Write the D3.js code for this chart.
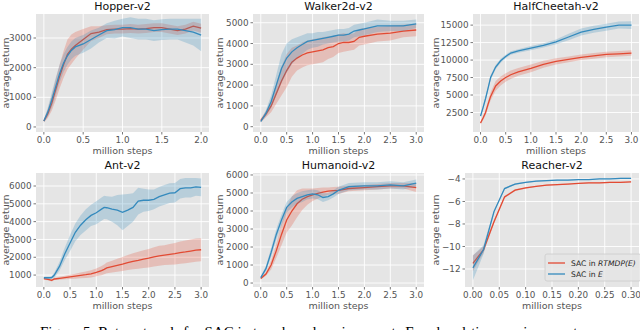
<!DOCTYPE html>
<html>
<head>
<meta charset="utf-8">
<script src="https://cdn.jsdelivr.net/npm/d3@7"></script>
<style>
body { margin: 0; background: #fff; }
svg { display: block; font-family: "DejaVu Sans", sans-serif; }
</style>
</head>
<body>
<div id="chart"></div>
<script>

// ---- data (mean and half-width of the shaded band) ----
var hopperSteps = [0, 0.05, 0.1, 0.15, 0.2, 0.25, 0.3, 0.35, 0.4, 0.5, 0.6, 0.7, 0.8, 0.9, 1.0, 1.1, 1.2, 1.3, 1.4, 1.5, 1.6, 1.7, 1.8, 1.9, 2.0];
var hopperRtmdp = [200, 450, 800, 1250, 1700, 2100, 2450, 2620, 2750, 2950, 3150, 3200, 3280, 3300, 3300, 3320, 3300, 3320, 3350, 3350, 3300, 3250, 3300, 3400, 3330];
var hopperRtmdpSpread = [50, 150, 250, 350, 400, 450, 500, 500, 450, 350, 250, 200, 150, 150, 150, 150, 150, 150, 150, 150, 150, 150, 150, 150, 150];
var hopperSac = [200, 500, 900, 1350, 1800, 2150, 2400, 2580, 2700, 2800, 2950, 3100, 3250, 3280, 3350, 3350, 3300, 3300, 3250, 3280, 3300, 3300, 3250, 3200, 3100];
var hopperSacSpread = [50, 150, 250, 300, 300, 300, 300, 300, 300, 300, 300, 250, 250, 300, 300, 350, 350, 350, 350, 350, 350, 350, 400, 450, 550];

var walkerSteps = [0, 0.1, 0.2, 0.3, 0.4, 0.5, 0.6, 0.7, 0.8, 0.9, 1.0, 1.1, 1.2, 1.3, 1.4, 1.5, 1.6, 1.7, 1.8, 1.9, 2.0, 2.25, 2.5, 2.75, 3.0];
var walkerRtmdp = [300, 600, 1000, 1600, 2200, 2700, 3100, 3300, 3450, 3550, 3600, 3650, 3700, 3800, 3850, 4000, 4050, 4050, 4100, 4300, 4350, 4450, 4500, 4600, 4650];
var walkerRtmdpSpread = [100, 150, 300, 500, 700, 800, 700, 600, 600, 600, 600, 600, 600, 550, 500, 450, 450, 400, 400, 400, 400, 350, 350, 300, 300];
var walkerSac = [250, 650, 1200, 2000, 2800, 3300, 3600, 3800, 3950, 4100, 4150, 4200, 4250, 4300, 4350, 4400, 4400, 4450, 4600, 4650, 4700, 4850, 4850, 4850, 4950];
var walkerSacSpread = [50, 150, 300, 500, 700, 700, 600, 500, 450, 400, 350, 350, 300, 300, 300, 300, 300, 300, 300, 300, 300, 300, 250, 250, 200];

var cheetahSteps = [0, 0.05, 0.1, 0.15, 0.2, 0.3, 0.4, 0.5, 0.6, 0.75, 1.0, 1.25, 1.5, 1.75, 2.0, 2.25, 2.5, 2.75, 3.0];
var cheetahRtmdp = [1000, 1700, 2500, 3700, 4800, 6300, 7000, 7500, 7900, 8300, 8800, 9400, 9800, 10100, 10400, 10600, 10800, 10900, 11000];
var cheetahRtmdpSpread = [200, 300, 400, 500, 600, 700, 650, 600, 600, 550, 550, 500, 450, 400, 400, 400, 400, 400, 400];
var cheetahSac = [2000, 3200, 4500, 6000, 7500, 9000, 9900, 10500, 11000, 11300, 11700, 12100, 12600, 13300, 14000, 14400, 14700, 15000, 15000];
var cheetahSacSpread = [200, 300, 300, 300, 300, 300, 300, 250, 250, 250, 300, 300, 350, 450, 500, 500, 500, 500, 550];

var antSteps = [0, 0.1, 0.15, 0.2, 0.3, 0.4, 0.5, 0.6, 0.7, 0.8, 0.9, 1.0, 1.1, 1.15, 1.2, 1.3, 1.4, 1.5, 1.6, 1.7, 1.8, 1.9, 2.0, 2.1, 2.2, 2.3, 2.4, 2.5, 2.6, 2.7, 2.8, 2.9, 3.0];
var antRtmdp = [800, 750, 700, 780, 820, 860, 900, 940, 980, 1020, 1070, 1150, 1250, 1320, 1400, 1480, 1550, 1620, 1700, 1770, 1830, 1900, 1950, 2020, 2080, 2120, 2160, 2200, 2260, 2300, 2350, 2400, 2420];
var antRtmdpSpread = [60, 60, 60, 60, 80, 100, 120, 140, 160, 180, 200, 220, 260, 280, 300, 330, 360, 390, 420, 450, 480, 500, 520, 540, 560, 560, 580, 600, 620, 640, 650, 650, 650];
var antSac = [850, 850, 860, 1000, 1500, 2200, 2800, 3400, 3800, 4100, 4350, 4500, 4700, 4800, 4780, 4700, 4650, 4520, 4650, 4800, 5150, 5200, 5200, 5250, 5400, 5500, 5600, 5620, 5850, 5900, 5900, 5950, 5920];
var antSacSpread = [50, 60, 80, 150, 250, 350, 450, 500, 550, 600, 600, 650, 650, 650, 650, 700, 850, 1000, 900, 800, 750, 650, 600, 550, 550, 550, 550, 550, 550, 550, 550, 500, 500];

var humanoidSteps = [0, 0.1, 0.2, 0.3, 0.4, 0.5, 0.6, 0.7, 0.8, 0.9, 1.0, 1.1, 1.2, 1.3, 1.4, 1.5, 1.7, 2.0, 2.25, 2.5, 2.75, 3.0];
var humanoidRtmdp = [250, 500, 1000, 1800, 2700, 3500, 4000, 4400, 4650, 4800, 4900, 4980, 5050, 5100, 5130, 5150, 5250, 5300, 5350, 5400, 5400, 5300];
var humanoidRtmdpSpread = [60, 100, 250, 400, 600, 700, 800, 750, 600, 450, 350, 300, 250, 200, 200, 200, 150, 150, 150, 150, 150, 250];
var humanoidSac = [300, 800, 1700, 2700, 3500, 4200, 4500, 4700, 4800, 4900, 4950, 4900, 4750, 4800, 4950, 5150, 5350, 5400, 5400, 5450, 5400, 5550];
var humanoidSacSpread = [60, 150, 250, 300, 300, 300, 300, 300, 300, 250, 250, 250, 250, 200, 200, 200, 200, 200, 200, 200, 200, 200];

var reacherSteps = [0, 0.02, 0.04, 0.06, 0.08, 0.1, 0.12, 0.14, 0.16, 0.18, 0.2, 0.22, 0.24, 0.26, 0.28, 0.3];
var reacherRtmdp = [-11.5, -10.3, -7.8, -5.6, -5.0, -4.8, -4.65, -4.55, -4.5, -4.45, -4.4, -4.35, -4.35, -4.3, -4.3, -4.25];
var reacherRtmdpSpread = [0.7, 0.3, 0.15, 0.1, 0.08, 0.06, 0.05, 0.05, 0.05, 0.05, 0.05, 0.05, 0.05, 0.05, 0.05, 0.05];
var reacherSac = [-11.9, -10.3, -6.9, -4.85, -4.45, -4.3, -4.2, -4.15, -4.1, -4.1, -4.05, -4.05, -4.0, -4.0, -3.95, -3.95];
var reacherSacSpread = [1.1, 0.4, 0.15, 0.08, 0.06, 0.05, 0.05, 0.05, 0.05, 0.05, 0.05, 0.05, 0.05, 0.05, 0.05, 0.05];

var xTicks2 = [0, 0.5, 1.0, 1.5, 2.0];
var xTicks3 = [0, 0.5, 1.0, 1.5, 2.0, 2.5, 3.0];
var xTicksReacher = [0, 0.05, 0.1, 0.15, 0.2, 0.25, 0.3];

var legendLabels = [["SAC in ", "RTMDP(E)"], ["SAC in ", "E"]];
var caption = "Figure 5: Return trends for SAC in turn-based environments E and real-time environments";

var colRed = "#E24A33", colBlue = "#348ABD";

var W = 640, H = 330;

var panels = [
  {title: "Hopper-v2", steps: hopperSteps, red: hopperRtmdp, redS: hopperRtmdpSpread, blue: hopperSac, blueS: hopperSacSpread,
   box: {l: 36, r: 209, t: 14, b: 132}, xd: [-0.1, 2.1], yd: [-170, 3810], xt: xTicks2, xf: ".1f", yt: [0, 1000, 2000, 3000], labX: 6},
  {title: "Walker2d-v2", steps: walkerSteps, red: walkerRtmdp, redS: walkerRtmdpSpread, blue: walkerSac, blueS: walkerSacSpread,
   box: {l: 253, r: 424, t: 14, b: 132}, xd: [-0.15, 3.15], yd: [-255, 5420], xt: xTicks3, xf: ".1f", yt: [0, 1000, 2000, 3000, 4000, 5000], labX: 220},
  {title: "HalfCheetah-v2", steps: cheetahSteps, red: cheetahRtmdp, redS: cheetahRtmdpSpread, blue: cheetahSac, blueS: cheetahSacSpread,
   box: {l: 473, r: 639, t: 14, b: 132}, xd: [-0.15, 3.15], yd: [-290, 16590], xt: xTicks3, xf: ".1f", yt: [2500, 5000, 7500, 10000, 12500, 15000], labX: 436},
  {title: "Ant-v2", steps: antSteps, red: antRtmdp, redS: antRtmdpSpread, blue: antSac, blueS: antSacSpread,
   box: {l: 36, r: 209, t: 173, b: 287}, xd: [-0.15, 3.15], yd: [330, 6730], xt: xTicks3, xf: ".1f", yt: [1000, 2000, 3000, 4000, 5000, 6000], labX: 6},
  {title: "Humanoid-v2", steps: humanoidSteps, red: humanoidRtmdp, redS: humanoidRtmdpSpread, blue: humanoidSac, blueS: humanoidSacSpread,
   box: {l: 253, r: 424, t: 173, b: 287}, xd: [-0.15, 3.15], yd: [-220, 6110], xt: xTicks3, xf: ".1f", yt: [0, 1000, 2000, 3000, 4000, 5000, 6000], labX: 220},
  {title: "Reacher-v2", steps: reacherSteps, red: reacherRtmdp, redS: reacherRtmdpSpread, blue: reacherSac, blueS: reacherSacSpread,
   box: {l: 465, r: 639, t: 173, b: 287}, xd: [-0.015, 0.315], yd: [-13.6, -3.47], xt: xTicksReacher, xf: ".2f", yt: [-12, -10, -8, -6, -4], labX: 436, legend: true}
];

var svg = d3.select("#chart").append("svg")
  .attr("width", W)
  .attr("height", H);

panels.forEach(function(p) {
  var x = d3.scaleLinear().domain(p.xd).range([p.box.l, p.box.r]);
  var y = d3.scaleLinear().domain(p.yd).range([p.box.b, p.box.t]);
  var g = svg.append("g");

  var clipId = "clip-" + p.title;
  g.append("clipPath").attr("id", clipId)
    .append("rect")
    .attr("x", p.box.l).attr("y", p.box.t)
    .attr("width", p.box.r - p.box.l).attr("height", p.box.b - p.box.t);

  g.append("rect")
    .attr("x", p.box.l).attr("y", p.box.t)
    .attr("width", p.box.r - p.box.l).attr("height", p.box.b - p.box.t)
    .attr("fill", "#E5E5E5");

  // grid
  g.selectAll(".gx").data(p.xt).enter().append("line")
    .attr("x1", function(d) { return x(d); }).attr("x2", function(d) { return x(d); })
    .attr("y1", p.box.t).attr("y2", p.box.b)
    .attr("stroke", "#fff").attr("stroke-width", 0.9);
  g.selectAll(".gy").data(p.yt).enter().append("line")
    .attr("y1", function(d) { return y(d); }).attr("y2", function(d) { return y(d); })
    .attr("x1", p.box.l).attr("x2", p.box.r)
    .attr("stroke", "#fff").attr("stroke-width", 0.9);

  // ticks + labels
  var fx = d3.format(p.xf);
  g.selectAll(".tx").data(p.xt).enter().append("line")
    .attr("x1", function(d) { return x(d); }).attr("x2", function(d) { return x(d); })
    .attr("y1", p.box.b).attr("y2", p.box.b + 2.5)
    .attr("stroke", "#555").attr("stroke-width", 0.8);
  g.selectAll(".lx").data(p.xt).enter().append("text")
    .attr("x", function(d) { return x(d); })
    .attr("y", p.box.b + 11)
    .attr("text-anchor", "middle")
    .attr("font-size", 8.8).attr("fill", "#555")
    .text(function(d) { return fx(d); });

  g.selectAll(".ty").data(p.yt).enter().append("line")
    .attr("y1", function(d) { return y(d); }).attr("y2", function(d) { return y(d); })
    .attr("x1", p.box.l - 2.5).attr("x2", p.box.l)
    .attr("stroke", "#555").attr("stroke-width", 0.8);
  g.selectAll(".ly").data(p.yt).enter().append("text")
    .attr("x", p.box.l - 4.5)
    .attr("y", function(d) { return y(d); })
    .attr("dy", "0.35em")
    .attr("text-anchor", "end")
    .attr("font-size", 8.8).attr("fill", "#555")
    .text(function(d) { return d3.format("d")(d); });

  // titles
  g.append("text")
    .attr("x", (p.box.l + p.box.r) / 2).attr("y", p.box.t - 4)
    .attr("text-anchor", "middle").attr("font-size", 11).attr("fill", "#111")
    .text(p.title);
  g.append("text")
    .attr("x", (p.box.l + p.box.r) / 2).attr("y", p.box.b + 22)
    .attr("text-anchor", "middle").attr("font-size", 9.5).attr("fill", "#555")
    .text("million steps");
  g.append("text")
    .attr("transform", "translate(" + p.labX + "," + ((p.box.t + p.box.b) / 2) + ") rotate(-90)")
    .attr("dy", "0.35em")
    .attr("text-anchor", "middle").attr("font-size", 9.5).attr("fill", "#555")
    .text("average return");

  // series: red first, then blue
  var series = [
    {mean: p.red, spread: p.redS, color: colRed},
    {mean: p.blue, spread: p.blueS, color: colBlue}
  ];
  var plot = g.append("g").attr("clip-path", "url(#" + clipId + ")");
  series.forEach(function(s) {
    var area = d3.area()
      .x(function(d, i) { return x(p.steps[i]); })
      .y0(function(d, i) { return y(d - s.spread[i]); })
      .y1(function(d, i) { return y(d + s.spread[i]); });
    var line = d3.line()
      .x(function(d, i) { return x(p.steps[i]); })
      .y(function(d) { return y(d); });
    plot.append("path").datum(s.mean)
      .attr("d", area)
      .attr("fill", s.color).attr("fill-opacity", 0.25);
    plot.append("path").datum(s.mean)
      .attr("d", line)
      .attr("fill", "none").attr("stroke", s.color).attr("stroke-width", 1.3);
  });

  if (p.legend) {
    var lg = g.append("g");
    lg.append("rect")
      .attr("x", 545).attr("y", 254).attr("width", 96).attr("height", 27).attr("rx", 2)
      .attr("fill", "#E5E5E5").attr("fill-opacity", 0.8)
      .attr("stroke", "#ccc").attr("stroke-width", 0.8);
    legendLabels.forEach(function(lab, i) {
      var yy = 263 + i * 11;
      lg.append("line")
        .attr("x1", 548).attr("x2", 565).attr("y1", yy).attr("y2", yy)
        .attr("stroke", i === 0 ? colRed : colBlue).attr("stroke-width", 1.3);
      var t = lg.append("text")
        .attr("x", 571).attr("y", yy).attr("dy", "0.35em")
        .attr("font-size", 7.6).attr("fill", "#222");
      t.append("tspan").text(lab[0]);
      t.append("tspan").attr("font-style", "italic").text(lab[1]);
    });
  }
});

// caption, cut off at the bottom edge as in the source figure
svg.append("text")
  .attr("x", 40).attr("y", 337)
  .attr("font-family", "'Liberation Serif', serif")
  .attr("font-size", 15).attr("fill", "#000")
  .text(caption);

</script>
</body>
</html>
